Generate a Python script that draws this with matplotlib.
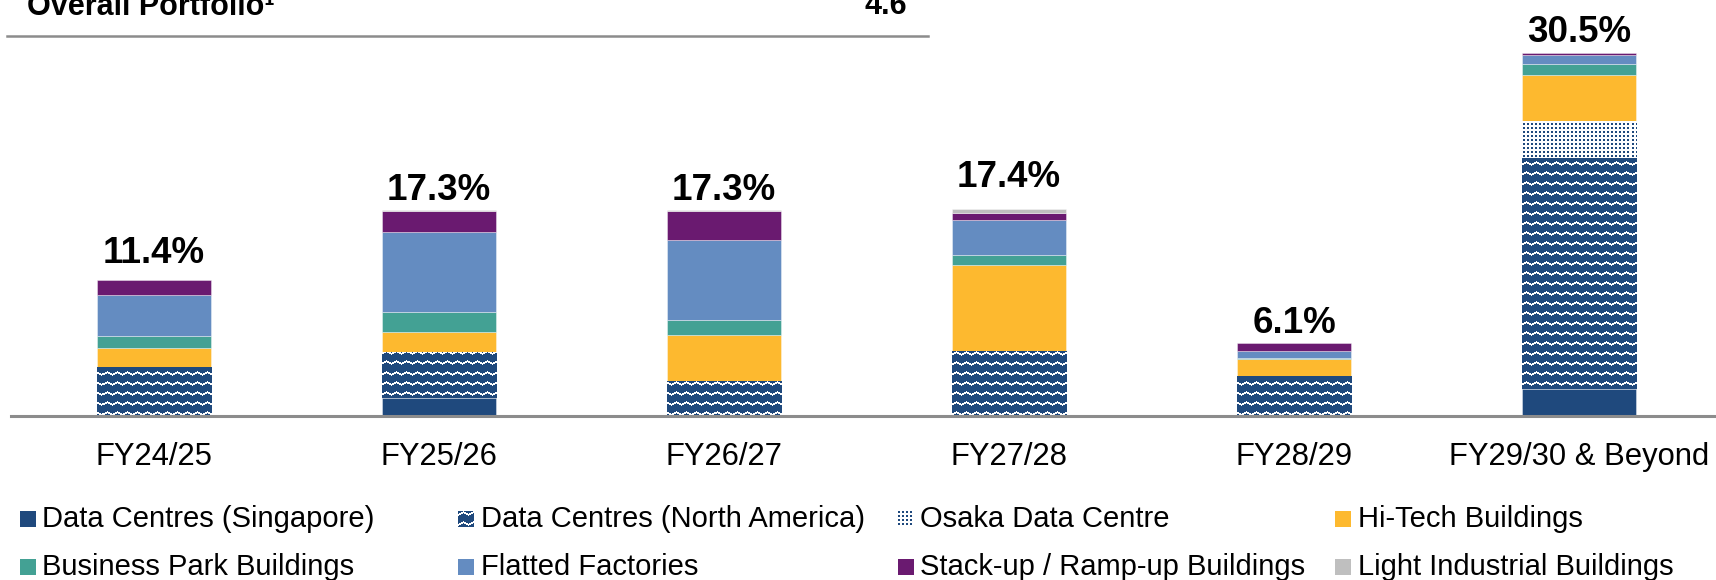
import numpy as np
import matplotlib
matplotlib.use('Agg')
import matplotlib.pyplot as plt
from matplotlib.lines import Line2D

plt.rcParams['font.family'] = ['Liberation Sans', 'DejaVu Sans']

# ---- dati (% del portafoglio per anno di scadenza) ----
categories = ['FY24/25', 'FY25/26', 'FY26/27', 'FY27/28', 'FY28/29', 'FY29/30 & Beyond']
total_labels = ['11.4%', '17.3%', '17.3%', '17.4%', '6.1%', '30.5%']

dc_singapore = [0, 1.5, 0, 0, 0, 2.3]
dc_north_america = [4.1, 3.9, 2.9, 5.5, 3.35, 19.4]
osaka_dc = [0, 0, 0, 0, 0, 3.1]
hitech = [1.6, 1.7, 3.9, 7.2, 1.45, 3.85]
business_park = [1.0, 1.6, 1.3, 0.8, 0.1, 0.95]
flatted_factories = [3.5, 6.8, 6.7, 3.0, 0.55, 0.75]
stackup_rampup = [1.2, 1.7, 2.4, 0.6, 0.65, 0.15]
light_industrial = [0, 0.1, 0.1, 0.3, 0, 0]

series_names = ['Data Centres (Singapore)', 'Data Centres (North America)',
                'Osaka Data Centre', 'Hi-Tech Buildings',
                'Business Park Buildings', 'Flatted Factories',
                'Stack-up / Ramp-up Buildings', 'Light Industrial Buildings']

overall_label = 'Overall Portfolio\u00b9'
overall_value = '4.6'

series = [dc_singapore, dc_north_america, osaka_dc, hitech,
          business_park, flatted_factories, stackup_rampup, light_industrial]

DARK = '#1f497d'
colors = [DARK, DARK, '#ffffff', '#fdb92f', '#43a194', '#648cc1', '#6a1a70', '#bfbfbf']
patterns = [None, 'zigzag', 'dots', None, None, None, None, None]
# distanza (pt) etichetta-barra, come nella slide originale
label_gap = [12.2, 7.4, 7.4, 16.0, 7.4, 7.6]

W, H, DPI = 1716, 580, 100


def px_box(x0, y_top, w, h):
    # pixel (dall'alto) -> frazione figura
    return [x0 / W, 1 - (y_top + h) / H, w / W, h / H]


def rgb(c):
    return np.array(matplotlib.colors.to_rgb(c))


def texture(kind, rows, cols):
    # texture tipo powerpoint
    if kind == 'zigzag':
        tile = np.zeros((10, 10), bool)
        for c in range(10):
            r = int(round(abs(c - 5) * 0.6))
            tile[r, c] = True
            tile[r + 1, c] = True
        fg, bg = rgb('white'), rgb(DARK)
    else:
        tile = np.zeros((4, 4), bool)
        tile[0:2, 0:2] = True
        fg, bg = rgb(DARK), rgb('white')
    reps = (rows // tile.shape[0] + 1, cols // tile.shape[1] + 1)
    m = np.tile(tile, reps)[:rows, :cols]
    img = np.where(m[..., None], fg, bg)
    return img


fig = plt.figure(figsize=(W / DPI, H / DPI), dpi=DPI)
ax_h = 404.6
ax = fig.add_axes(px_box(11, 416 - ax_h, 1711, ax_h))
ax.set_xlim(-0.5, 5.5)
ax.set_ylim(0, 34)

x = np.arange(len(categories))
bottom = np.zeros(len(categories))
for vals, color, pat in zip(series, colors, patterns):
    vals = np.array(vals, dtype=float)
    bars = ax.bar(x, vals, 0.4, bottom=bottom, color=color,
                  edgecolor=(1, 1, 1, 0.45), linewidth=0.6, zorder=1)
    for b, v in zip(bars, vals):
        if v == 0:
            b.set_visible(False)
        elif pat is not None:
            im = ax.imshow(texture(pat, int(ax_h) + 1, 1711), extent=(-0.5, 5.5, 0, 34),
                           aspect='auto', interpolation='nearest', zorder=1.5)
            im.set_clip_path(b)
    bottom += vals

# etichette totali
for xi, top, lab, gap in zip(x, bottom, total_labels, label_gap):
    ax.annotate(lab, (xi, top), xytext=(0, gap), textcoords='offset points',
                ha='center', va='baseline', fontsize=26.5, fontweight='bold')

ax.set_xticks(x, categories, fontsize=22.3)
ax.tick_params(axis='x', length=0, pad=18.5)
ax.set_yticks([])
for s in ['top', 'left', 'right']:
    ax.spines[s].set_visible(False)
ax.spines['bottom'].set_color('#8c8c8c')
ax.spines['bottom'].set_linewidth(2.2)
ax.set_facecolor('none')

# legenda manuale, 4 colonne in righe
col_x = [20, 458, 898, 1335]
row_base = [527, 575]
for i, (name, color, pat) in enumerate(zip(series_names, colors, patterns)):
    r, c = i // 4, i % 4
    mx, base = col_x[c], row_base[r]
    if pat is None:
        img = np.ones((16, 16, 3)) * rgb(color)
    else:
        img = texture(pat, 16, 16)
    fig.figimage(img, xo=mx, yo=H - base, origin='upper', zorder=3)
    fig.text((mx + 22.5) / W, 1 - base / H, name, fontsize=21, va='baseline', ha='left')

# intestazione tabella in alto
fig.text(26.7 / W, 1 - 15 / H, overall_label, fontsize=22, fontweight='bold', va='baseline')
fig.text(907 / W, 1 - 14 / H, overall_value, fontsize=22, fontweight='bold', va='baseline', ha='right')
fig.add_artist(Line2D([6.7 / W, 927.7 / W], [1 - 36 / H, 1 - 36 / H], color='#8c8c8c',
                      lw=1.8, transform=fig.transFigure))

fig.savefig('out.png', dpi=DPI)
